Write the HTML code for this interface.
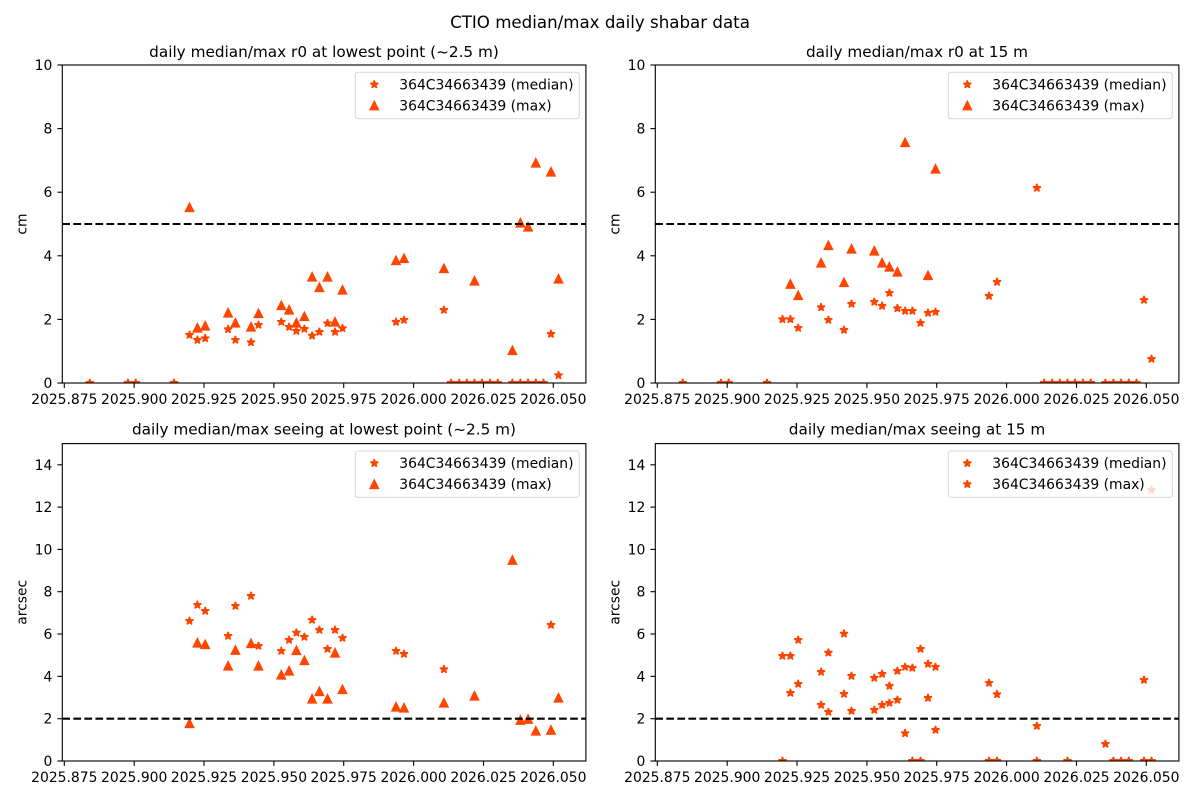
<!DOCTYPE html>
<html><head><meta charset="utf-8"><style>
html,body{margin:0;padding:0;background:#fff;}
svg{display:block;}
text{font-family:"DejaVu Sans","Liberation Sans",sans-serif;fill:#000;}
.tk{font-size:13.9px;}
.ttl{font-size:16.67px;}
.st{font-size:15.28px;}
</style></head><body>
<svg width="1200" height="800" viewBox="0 0 1200 800" xmlns="http://www.w3.org/2000/svg">
<defs>
<path id="s" d="M0,-4.17L0.936,-1.289L3.966,-1.289L1.515,0.492L2.451,3.374L0,1.593L-2.451,3.374L-1.515,0.492L-3.966,-1.289L-0.936,-1.289Z" fill="#FF4500" stroke="#FF4500" stroke-width="1.39" stroke-linejoin="bevel"/>
<path id="t" d="M0,-4.17L-4.17,4.17L4.17,4.17Z" fill="#FF4500" stroke="#FF4500" stroke-width="1.39" stroke-linejoin="miter"/>
<clipPath id="ct"><rect x="62.3" y="65" width="523.6" height="318"/></clipPath>
<clipPath id="cb"><rect x="62.3" y="443.6" width="523.6" height="317.4"/></clipPath>
<g id="xt">
<line x1="64.3" y1="0" x2="64.3" y2="4.86"/><line x1="134.2" y1="0" x2="134.2" y2="4.86"/><line x1="204" y1="0" x2="204" y2="4.86"/><line x1="273.9" y1="0" x2="273.9" y2="4.86"/><line x1="343.7" y1="0" x2="343.7" y2="4.86"/><line x1="413.6" y1="0" x2="413.6" y2="4.86"/><line x1="483.5" y1="0" x2="483.5" y2="4.86"/><line x1="553.3" y1="0" x2="553.3" y2="4.86"/>
</g>
<g id="xl" class="tk" text-anchor="middle">
<text x="64.3" y="0">2025.875</text><text x="134.2" y="0">2025.900</text><text x="204" y="0">2025.925</text><text x="273.9" y="0">2025.950</text><text x="343.7" y="0">2025.975</text><text x="413.6" y="0">2026.000</text><text x="483.5" y="0">2026.025</text><text x="553.3" y="0">2026.050</text>
</g>
</defs>
<rect width="1200" height="800" fill="#fff"/>

<text class="ttl" x="600" y="28" text-anchor="middle">CTIO median/max daily shabar data</text>

<!-- ============ TOP LEFT ============ -->
<g>
<g clip-path="url(#ct)">
<use href="#s" x="89.8" y="383"/><use href="#s" x="128" y="383"/><use href="#s" x="135.7" y="383"/><use href="#s" x="174" y="383"/>
<use href="#s" x="451.1" y="383"/><use href="#s" x="459.2" y="383"/><use href="#s" x="466.8" y="383"/><use href="#s" x="474.5" y="383"/><use href="#s" x="482" y="383"/><use href="#s" x="490" y="383"/><use href="#s" x="497.8" y="383"/>
<use href="#s" x="512.4" y="383"/><use href="#s" x="520.4" y="383"/><use href="#s" x="528.1" y="383"/><use href="#s" x="535.8" y="383"/><use href="#s" x="543.5" y="383"/>
<use href="#s" x="189.5" y="335"/><use href="#s" x="197.4" y="340"/><use href="#s" x="205.2" y="338.3"/><use href="#s" x="228.1" y="329.3"/><use href="#s" x="235.4" y="340"/><use href="#s" x="251" y="342.3"/><use href="#s" x="258.5" y="325"/><use href="#s" x="281.3" y="322"/><use href="#s" x="289.1" y="327"/><use href="#s" x="296.4" y="331"/><use href="#s" x="304.4" y="329"/><use href="#s" x="312.1" y="335.7"/><use href="#s" x="319.4" y="332"/><use href="#s" x="327.5" y="323.3"/><use href="#s" x="335" y="332"/><use href="#s" x="342.5" y="328.3"/><use href="#s" x="396" y="322"/><use href="#s" x="404" y="320"/><use href="#s" x="443.9" y="310"/><use href="#s" x="551" y="334"/><use href="#s" x="558.5" y="375.3"/>
<use href="#t" x="189.5" y="207.3"/><use href="#t" x="197.4" y="327.7"/><use href="#t" x="205.2" y="325.7"/><use href="#t" x="228.1" y="312.7"/><use href="#t" x="235.4" y="322.7"/><use href="#t" x="251" y="326.7"/><use href="#t" x="258.5" y="313.3"/><use href="#t" x="281.3" y="305.3"/><use href="#t" x="289.1" y="309.7"/><use href="#t" x="296.4" y="322.7"/><use href="#t" x="304.4" y="316.3"/><use href="#t" x="312.1" y="276.7"/><use href="#t" x="319.4" y="287.3"/><use href="#t" x="327.5" y="276.7"/><use href="#t" x="335" y="321.7"/><use href="#t" x="342.5" y="289.7"/><use href="#t" x="396" y="260.3"/><use href="#t" x="404" y="258.3"/><use href="#t" x="443.9" y="268.3"/><use href="#t" x="474.5" y="280.7"/><use href="#t" x="512.4" y="350.3"/><use href="#t" x="520.4" y="222.7"/><use href="#t" x="528.1" y="226.7"/><use href="#t" x="535.8" y="162.7"/><use href="#t" x="551" y="171.7"/><use href="#t" x="558.5" y="278.7"/>
<line x1="62.3" y1="224" x2="585.9" y2="224" stroke="#000" stroke-width="2.08" stroke-dasharray="7.71 3.33"/>
</g>
<rect x="62.3" y="65" width="523.6" height="318" fill="none" stroke="#000" stroke-width="1.11"/>
<use href="#xt" x="0" y="383" stroke="#000" stroke-width="1.11"/>
<use href="#xl" x="0" y="404"/>
<g stroke="#000" stroke-width="1.11"><line x1="57.44" y1="383" x2="62.3" y2="383"/><line x1="57.44" y1="319.4" x2="62.3" y2="319.4"/><line x1="57.44" y1="255.8" x2="62.3" y2="255.8"/><line x1="57.44" y1="192.2" x2="62.3" y2="192.2"/><line x1="57.44" y1="128.6" x2="62.3" y2="128.6"/><line x1="57.44" y1="65" x2="62.3" y2="65"/></g>
<g class="tk" text-anchor="end"><text x="52.3" y="388">0</text><text x="52.3" y="324.4">2</text><text x="52.3" y="260.8">4</text><text x="52.3" y="197.2">6</text><text x="52.3" y="133.6">8</text><text x="52.3" y="70">10</text></g>
<text class="tk" transform="translate(26.7,224) rotate(-90)" text-anchor="middle">cm</text>
<text class="st" x="324" y="57" text-anchor="middle">daily median/max r0 at lowest point (~2.5 m)</text>
<rect x="355.3" y="72.3" width="224" height="46.4" rx="2.8" fill="#fff" fill-opacity="0.8" stroke="#ccc" stroke-opacity="0.8" stroke-width="1"/>
<use href="#s" x="374.3" y="84.5"/><use href="#t" x="374.3" y="105.5"/>
<text class="tk" x="399.3" y="89.3">364C34663439 (median)</text>
<text class="tk" x="399.3" y="110.3">364C34663439 (max)</text>
</g>

<!-- ============ TOP RIGHT ============ -->
<g transform="translate(593,0)">
<g clip-path="url(#ct)">
<use href="#s" x="89.8" y="383"/><use href="#s" x="128" y="383"/><use href="#s" x="135.7" y="383"/><use href="#s" x="174" y="383"/>
<use href="#s" x="451.1" y="383"/><use href="#s" x="459.2" y="383"/><use href="#s" x="466.8" y="383"/><use href="#s" x="474.5" y="383"/><use href="#s" x="482" y="383"/><use href="#s" x="490" y="383"/><use href="#s" x="497.8" y="383"/>
<use href="#s" x="512.4" y="383"/><use href="#s" x="520.4" y="383"/><use href="#s" x="528.1" y="383"/><use href="#s" x="535.8" y="383"/><use href="#s" x="543.5" y="383"/>
<use href="#s" x="189.5" y="319.3"/><use href="#s" x="197.4" y="319.3"/><use href="#s" x="205.2" y="328"/><use href="#s" x="228.1" y="307.3"/><use href="#s" x="235.4" y="320"/><use href="#s" x="251" y="330"/><use href="#s" x="258.5" y="304"/><use href="#s" x="281.3" y="302"/><use href="#s" x="289.1" y="306"/><use href="#s" x="296.4" y="293"/><use href="#s" x="304.4" y="308.3"/><use href="#s" x="312.1" y="311"/><use href="#s" x="319.4" y="311"/><use href="#s" x="327.5" y="323"/><use href="#s" x="335" y="313"/><use href="#s" x="342.5" y="312"/><use href="#s" x="396" y="296"/><use href="#s" x="404" y="282"/><use href="#s" x="443.9" y="188"/><use href="#s" x="551" y="300"/><use href="#s" x="558.5" y="359"/>
<use href="#t" x="197.4" y="284"/><use href="#t" x="205.2" y="295.3"/><use href="#t" x="228.1" y="262.7"/><use href="#t" x="235.4" y="245.3"/><use href="#t" x="251" y="282.3"/><use href="#t" x="258.5" y="248.7"/><use href="#t" x="281.3" y="250.7"/><use href="#t" x="289.1" y="262.7"/><use href="#t" x="296.4" y="266.7"/><use href="#t" x="304.4" y="271.7"/><use href="#t" x="312.1" y="142.3"/><use href="#t" x="335" y="275.3"/><use href="#t" x="342.5" y="168.7"/>
<line x1="62.3" y1="224" x2="585.9" y2="224" stroke="#000" stroke-width="2.08" stroke-dasharray="7.71 3.33"/>
</g>
<rect x="62.3" y="65" width="523.6" height="318" fill="none" stroke="#000" stroke-width="1.11"/>
<use href="#xt" x="0" y="383" stroke="#000" stroke-width="1.11"/>
<use href="#xl" x="0" y="404"/>
<g stroke="#000" stroke-width="1.11"><line x1="57.44" y1="383" x2="62.3" y2="383"/><line x1="57.44" y1="319.4" x2="62.3" y2="319.4"/><line x1="57.44" y1="255.8" x2="62.3" y2="255.8"/><line x1="57.44" y1="192.2" x2="62.3" y2="192.2"/><line x1="57.44" y1="128.6" x2="62.3" y2="128.6"/><line x1="57.44" y1="65" x2="62.3" y2="65"/></g>
<g class="tk" text-anchor="end"><text x="52.3" y="388">0</text><text x="52.3" y="324.4">2</text><text x="52.3" y="260.8">4</text><text x="52.3" y="197.2">6</text><text x="52.3" y="133.6">8</text><text x="52.3" y="70">10</text></g>
<text class="tk" transform="translate(26.7,224) rotate(-90)" text-anchor="middle">cm</text>
<text class="st" x="324" y="57" text-anchor="middle">daily median/max r0 at 15 m</text>
<rect x="355.3" y="72.3" width="224" height="46.4" rx="2.8" fill="#fff" fill-opacity="0.8" stroke="#ccc" stroke-opacity="0.8" stroke-width="1"/>
<use href="#s" x="374.3" y="84.5"/><use href="#t" x="374.3" y="105.5"/>
<text class="tk" x="399.3" y="89.3">364C34663439 (median)</text>
<text class="tk" x="399.3" y="110.3">364C34663439 (max)</text>
</g>

<!-- ============ BOTTOM LEFT ============ -->
<g>
<g clip-path="url(#cb)">
<use href="#s" x="189.5" y="621"/><use href="#s" x="197.4" y="605"/><use href="#s" x="205.2" y="611"/><use href="#s" x="228.1" y="636"/><use href="#s" x="235.4" y="606"/><use href="#s" x="251" y="596"/><use href="#s" x="258.5" y="646"/><use href="#s" x="281.3" y="651"/><use href="#s" x="289.1" y="640"/><use href="#s" x="296.4" y="632.7"/><use href="#s" x="304.4" y="637"/><use href="#s" x="312.1" y="620"/><use href="#s" x="319.4" y="630"/><use href="#s" x="327.5" y="649"/><use href="#s" x="335" y="630"/><use href="#s" x="342.5" y="638"/><use href="#s" x="396" y="651"/><use href="#s" x="404" y="654"/><use href="#s" x="443.9" y="669.3"/><use href="#s" x="551" y="625"/>
<use href="#t" x="189.5" y="723.3"/><use href="#t" x="197.4" y="642.7"/><use href="#t" x="205.2" y="644.3"/><use href="#t" x="228.1" y="665.7"/><use href="#t" x="235.4" y="650"/><use href="#t" x="251" y="643.3"/><use href="#t" x="258.5" y="665.7"/><use href="#t" x="281.3" y="674.7"/><use href="#t" x="289.1" y="670.7"/><use href="#t" x="296.4" y="650.3"/><use href="#t" x="304.4" y="660.3"/><use href="#t" x="312.1" y="698.7"/><use href="#t" x="319.4" y="691.3"/><use href="#t" x="327.5" y="698.7"/><use href="#t" x="335" y="652.7"/><use href="#t" x="342.5" y="689.3"/><use href="#t" x="396" y="706.7"/><use href="#t" x="404" y="707.7"/><use href="#t" x="443.9" y="702.7"/><use href="#t" x="474.5" y="695.7"/><use href="#t" x="512.4" y="560"/><use href="#t" x="520.4" y="720"/><use href="#t" x="528.1" y="719"/><use href="#t" x="535.8" y="730.7"/><use href="#t" x="551" y="730"/><use href="#t" x="558.5" y="697.7"/>
<line x1="62.3" y1="718.7" x2="585.9" y2="718.7" stroke="#000" stroke-width="2.08" stroke-dasharray="7.71 3.33"/>
</g>
<rect x="62.3" y="443.6" width="523.6" height="317.4" fill="none" stroke="#000" stroke-width="1.11"/>
<use href="#xt" x="0" y="761" stroke="#000" stroke-width="1.11"/>
<use href="#xl" x="0" y="782"/>
<g stroke="#000" stroke-width="1.11"><line x1="57.44" y1="761" x2="62.3" y2="761"/><line x1="57.44" y1="718.7" x2="62.3" y2="718.7"/><line x1="57.44" y1="676.4" x2="62.3" y2="676.4"/><line x1="57.44" y1="634" x2="62.3" y2="634"/><line x1="57.44" y1="591.7" x2="62.3" y2="591.7"/><line x1="57.44" y1="549.4" x2="62.3" y2="549.4"/><line x1="57.44" y1="507.1" x2="62.3" y2="507.1"/><line x1="57.44" y1="464.8" x2="62.3" y2="464.8"/></g>
<g class="tk" text-anchor="end"><text x="52.3" y="766">0</text><text x="52.3" y="723.7">2</text><text x="52.3" y="681.4">4</text><text x="52.3" y="639">6</text><text x="52.3" y="596.7">8</text><text x="52.3" y="554.4">10</text><text x="52.3" y="512.1">12</text><text x="52.3" y="469.8">14</text></g>
<text class="tk" transform="translate(26.7,602.3) rotate(-90)" text-anchor="middle">arcsec</text>
<text class="st" x="324" y="434.6" text-anchor="middle">daily median/max seeing at lowest point (~2.5 m)</text>
<rect x="355.3" y="451" width="224" height="46.4" rx="2.8" fill="#fff" fill-opacity="0.8" stroke="#ccc" stroke-opacity="0.8" stroke-width="1"/>
<use href="#s" x="374.3" y="463.2"/><use href="#t" x="374.3" y="484.2"/>
<text class="tk" x="399.3" y="468">364C34663439 (median)</text>
<text class="tk" x="399.3" y="489">364C34663439 (max)</text>
</g>

<!-- ============ BOTTOM RIGHT ============ -->
<g transform="translate(593,0)">
<g clip-path="url(#cb)">
<use href="#s" x="189.5" y="656"/><use href="#s" x="197.4" y="656"/><use href="#s" x="205.2" y="640"/><use href="#s" x="228.1" y="672"/><use href="#s" x="235.4" y="652.7"/><use href="#s" x="251" y="633.7"/><use href="#s" x="258.5" y="676"/><use href="#s" x="281.3" y="678"/><use href="#s" x="289.1" y="674"/><use href="#s" x="296.4" y="686"/><use href="#s" x="304.4" y="671"/><use href="#s" x="312.1" y="667"/><use href="#s" x="319.4" y="668"/><use href="#s" x="327.5" y="649"/><use href="#s" x="335" y="664"/><use href="#s" x="342.5" y="667"/><use href="#s" x="396" y="683"/><use href="#s" x="404" y="694.3"/><use href="#s" x="443.9" y="726"/><use href="#s" x="551" y="680"/><use href="#s" x="558.5" y="490"/>
<use href="#s" x="189.5" y="761"/><use href="#s" x="197.4" y="693"/><use href="#s" x="205.2" y="684"/><use href="#s" x="228.1" y="705"/><use href="#s" x="235.4" y="712"/><use href="#s" x="251" y="694"/><use href="#s" x="258.5" y="711"/><use href="#s" x="281.3" y="710"/><use href="#s" x="289.1" y="705"/><use href="#s" x="296.4" y="703"/><use href="#s" x="304.4" y="700"/><use href="#s" x="312.1" y="733.3"/><use href="#s" x="319.4" y="761"/><use href="#s" x="327.5" y="761"/><use href="#s" x="335" y="698"/><use href="#s" x="342.5" y="730"/><use href="#s" x="396" y="761"/><use href="#s" x="404" y="761"/><use href="#s" x="443.9" y="761"/><use href="#s" x="474.5" y="761"/><use href="#s" x="512.4" y="744"/><use href="#s" x="520.4" y="761"/><use href="#s" x="528.1" y="761"/><use href="#s" x="535.8" y="761"/><use href="#s" x="551" y="761"/><use href="#s" x="558.5" y="761"/>
<line x1="62.3" y1="718.7" x2="585.9" y2="718.7" stroke="#000" stroke-width="2.08" stroke-dasharray="7.71 3.33"/>
</g>
<rect x="62.3" y="443.6" width="523.6" height="317.4" fill="none" stroke="#000" stroke-width="1.11"/>
<use href="#xt" x="0" y="761" stroke="#000" stroke-width="1.11"/>
<use href="#xl" x="0" y="782"/>
<g stroke="#000" stroke-width="1.11"><line x1="57.44" y1="761" x2="62.3" y2="761"/><line x1="57.44" y1="718.7" x2="62.3" y2="718.7"/><line x1="57.44" y1="676.4" x2="62.3" y2="676.4"/><line x1="57.44" y1="634" x2="62.3" y2="634"/><line x1="57.44" y1="591.7" x2="62.3" y2="591.7"/><line x1="57.44" y1="549.4" x2="62.3" y2="549.4"/><line x1="57.44" y1="507.1" x2="62.3" y2="507.1"/><line x1="57.44" y1="464.8" x2="62.3" y2="464.8"/></g>
<g class="tk" text-anchor="end"><text x="52.3" y="766">0</text><text x="52.3" y="723.7">2</text><text x="52.3" y="681.4">4</text><text x="52.3" y="639">6</text><text x="52.3" y="596.7">8</text><text x="52.3" y="554.4">10</text><text x="52.3" y="512.1">12</text><text x="52.3" y="469.8">14</text></g>
<text class="tk" transform="translate(26.7,602.3) rotate(-90)" text-anchor="middle">arcsec</text>
<text class="st" x="324" y="434.6" text-anchor="middle">daily median/max seeing at 15 m</text>
<rect x="355.3" y="451" width="224" height="46.4" rx="2.8" fill="#fff" fill-opacity="0.8" stroke="#ccc" stroke-opacity="0.8" stroke-width="1"/>
<use href="#s" x="374.3" y="463.2"/><use href="#s" x="374.3" y="484.2"/>
<text class="tk" x="399.3" y="468">364C34663439 (median)</text>
<text class="tk" x="399.3" y="489">364C34663439 (max)</text>
</g>
</svg>
</body></html>
